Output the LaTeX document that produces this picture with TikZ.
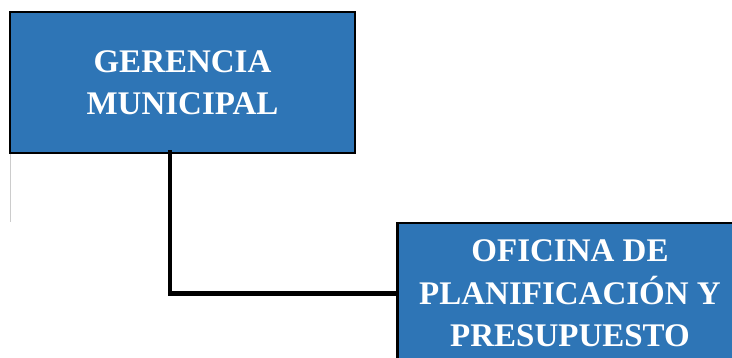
\documentclass[tikz,border=0pt]{standalone}
\usepackage{fontspec}
\setmainfont{Liberation Serif}
\definecolor{boxblue}{HTML}{2E75B6}
\tikzset{
  orgbox/.style={draw=black, line width=2.8pt, fill=boxblue, text=white,
    minimum width=345pt, minimum height=141pt, inner sep=0pt, align=center,
    font=\fontsize{33}{42.5}\selectfont\bfseries},
  link/.style={draw=black, line width=4.5pt}
}
\begin{document}
\begin{tikzpicture}[x=1pt,y=-1pt]
\useasboundingbox (0,0) rectangle (732,358);
\clip (0,0) rectangle (732,358);
\draw[gray!40, line width=0.6pt] (10,153) -- (10,222);
\node[orgbox] (g) at (182.5,82.5) {GERENCIA\\MUNICIPAL};
\node[orgbox] (o) at (570,293.5) {OFICINA DE\\PLANIFICACIÓN Y\\PRESUPUESTO};
\draw[link] ([xshift=-12.5pt,yshift=4pt]g.south) |- ([xshift=2pt]o.west);
\end{tikzpicture}
\end{document}
